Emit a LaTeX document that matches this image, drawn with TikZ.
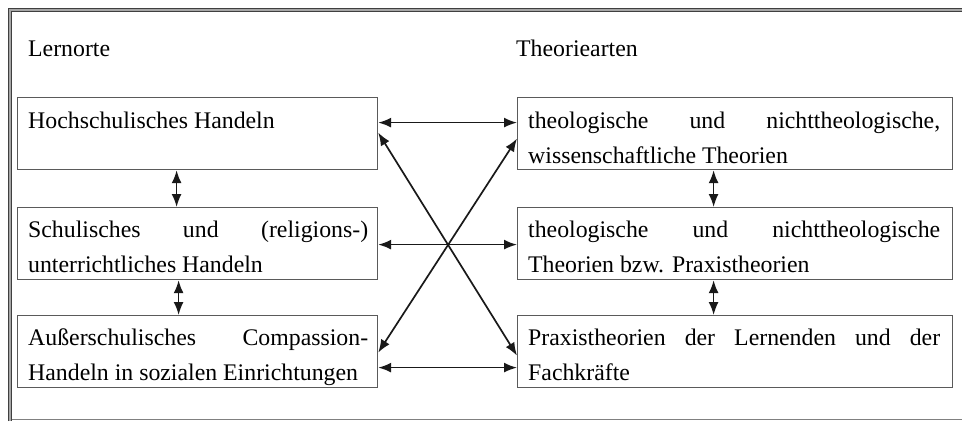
\documentclass[tikz,border=0pt]{standalone}
\usepackage{fontspec}
\setmainfont{Liberation Serif}
\usetikzlibrary{arrows.meta}
\definecolor{boxgray}{HTML}{5A5A5A}
\definecolor{framegray}{HTML}{3F3F3F}
\begin{document}
\begin{tikzpicture}[x=1bp,y=-1bp,
  lbox/.style={draw=boxgray, line width=1.2bp, minimum width=360bp, minimum height=72bp, inner sep=0pt, anchor=north west},
  rbox/.style={lbox, minimum width=435bp},
  txt/.style={inner sep=0pt, anchor=base west, align=justify, text=black, font=\fontsize{23.8bp}{35bp}\selectfont},
  head/.style={inner sep=0pt, anchor=base west, text=black, font=\fontsize{23.8bp}{35bp}\selectfont},
  dbl/.style={{Latex[length=13bp,width=10bp]}-{Latex[length=13bp,width=10bp]}, line width=1.7bp, black!90},
  frameline/.style={draw=framegray, line width=1.5bp}]
\useasboundingbox (0,0) rectangle (962,421);
% frame
\draw[draw=gray!70, line width=4bp] (10,421) -- (10,10) -- (962,10);
\draw[frameline] (8.5,421) -- (8.5,8.5) -- (962,8.5);
\draw[frameline] (11.5,421) -- (11.5,11.5) -- (962,11.5);
\draw[draw=gray, line width=1bp] (11.5,419) -- (962,419);
% headings
\node[head] (hl) at (28,56) {Lernorte};
\node[head] (hr) at (516,56) {Theoriearten};
% boxes
\node[lbox] (L1) at (17,97) {};
\node[lbox] (L2) at (17,207) {};
\node[lbox] (L3) at (17,315) {};
\node[rbox] (R1) at (517,97) {};
\node[rbox] (R2) at (517,207) {};
\node[rbox] (R3) at (517,315) {};
% texts
\node[txt, text width=340bp] (tL1) at (28,128) {Hochschulisches Handeln};
\node[txt, text width=340bp] (tL2) at (28,237) {Schulisches und (religions-)\linebreak unterrichtliches Handeln};
\node[txt, text width=340bp] (tL3) at (28,345) {Außerschulisches Compassion-\linebreak Handeln in sozialen Einrichtungen};
\node[txt, text width=412bp] (tR1) at (528,128) {theologische und nichttheologische,\linebreak wissenschaftliche Theorien};
\node[txt, text width=412bp] (tR2) at (528,237) {theologische und nichttheologische\linebreak Theorien bzw. Praxistheorien};
\node[txt, text width=412bp] (tR3) at (528,345) {Praxistheorien der Lernenden und der\linebreak Fachkräfte};
% horizontal arrows
\draw[dbl] ([yshift=11bp]L1.east) -- ([yshift=11bp]R1.west);
\draw[dbl] ([yshift=-1bp]L2.east) -- ([yshift=-1bp]R2.west);
\draw[dbl] ([yshift=-16bp]L3.east) -- ([yshift=-16bp]R3.west);
% diagonals
\draw[dbl] ([yshift=1bp]L1.east) -- ([yshift=-4bp]R3.west);
\draw[dbl] ([yshift=-1bp]L3.east) -- ([yshift=-5bp]R1.west);
% vertical arrows
\draw[dbl] ([xshift=-21bp]L1.south) -- ([xshift=-21bp]L2.north);
\draw[dbl] ([xshift=-19bp]L2.south) -- ([xshift=-19bp]L3.north);
\draw[dbl] ([xshift=-21.5bp]R1.south) -- ([xshift=-21.5bp]R2.north);
\draw[dbl] ([xshift=-21.5bp]R2.south) -- ([xshift=-21.5bp]R3.north);
\end{tikzpicture}
\end{document}
